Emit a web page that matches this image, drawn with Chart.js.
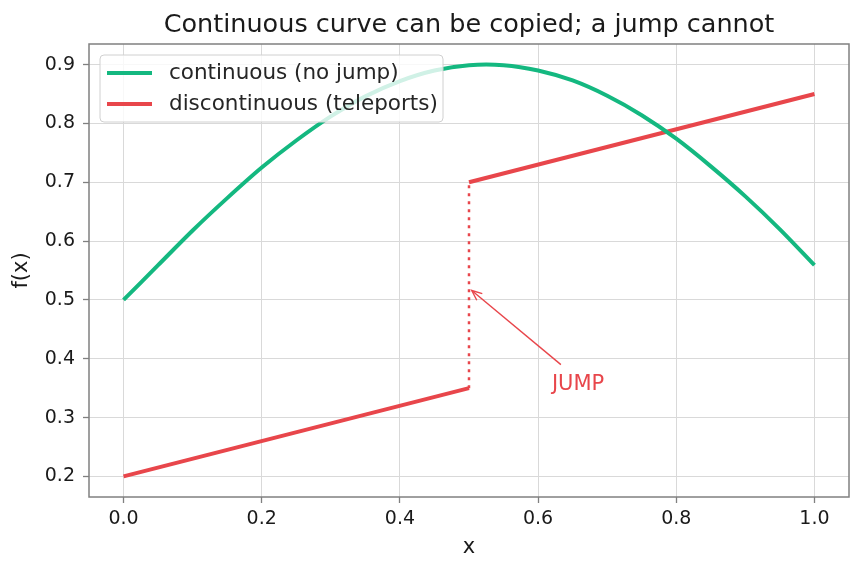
<!DOCTYPE html>
<html>
<head>
<meta charset="utf-8">
<script src="https://cdn.jsdelivr.net/npm/chart.js@4"></script>
<style>
  html,body{margin:0;padding:0;background:#fff;}
  #wrap{width:862px;height:573px;}
</style>
</head>
<body>
<div id="wrap"><canvas id="ch"></canvas></div>
<script>
'use strict';

// ── data ──
const xs = [0,0.05,0.1,0.15,0.2,0.25,0.3,0.35,0.4,0.45,0.5,0.55,0.6,0.65,0.7,0.75,0.8,0.85,0.9,0.95,1.0];
const contY = [0.5,0.559,0.618,0.673,0.725,0.771,0.812,0.846,0.872,0.89,0.899,0.899,0.89,0.873,0.847,0.814,0.774,0.727,0.676,0.62,0.559];
const leftX = [0, 0.5],  leftY = [0.2, 0.35];
const rightX = [0.5, 1.0], rightY = [0.7, 0.85];
const jumpX = [0.5, 0.5], jumpY = [0.35, 0.7];
const xTicks = [0,0.2,0.4,0.6,0.8,1.0];
const yTicks = [0.2,0.3,0.4,0.5,0.6,0.7,0.8,0.9];
const labels = ['continuous (no jump)', 'discontinuous (teleports)'];
const jumpTip = {x:0.504, y:0.516}, jumpText = {x:0.62, y:0.35}, jumpTail = {x:0.633, y:0.39};

const GREEN = '#14b880', RED = '#e8464b';
const FONT = "'DejaVu Sans', sans-serif";
const pts = (a,b) => a.map((v,i)=>({x:v,y:b[i]}));

const frame = {
  id:'frame',
  afterDatasetsDraw(c){
    const {ctx, chartArea:a, scales:{x, y}} = c;
    ctx.save();
    // spines
    ctx.strokeStyle = '#808080'; ctx.lineWidth = 1.5;
    ctx.strokeRect(a.left, a.top, a.right-a.left, a.bottom-a.top);

    // annotation arrow
    const tx = x.getPixelForValue(jumpTail.x), ty = y.getPixelForValue(jumpTail.y);
    const hx = x.getPixelForValue(jumpTip.x), hy = y.getPixelForValue(jumpTip.y);
    ctx.strokeStyle = RED; ctx.lineWidth = 1.4;
    ctx.beginPath(); ctx.moveTo(tx,ty); ctx.lineTo(hx,hy); ctx.stroke();
    const ang = Math.atan2(hy-ty, hx-tx), hl = 11;
    ctx.beginPath();
    ctx.moveTo(hx - hl*Math.cos(ang-0.4), hy - hl*Math.sin(ang-0.4));
    ctx.lineTo(hx,hy);
    ctx.lineTo(hx - hl*Math.cos(ang+0.4), hy - hl*Math.sin(ang+0.4));
    ctx.stroke();
    ctx.fillStyle = RED; ctx.font = '21px ' + FONT;
    ctx.textAlign = 'left'; ctx.textBaseline = 'alphabetic';
    ctx.fillText('JUMP', x.getPixelForValue(jumpText.x), y.getPixelForValue(jumpText.y)+2);

    // legend
    const lx = a.left + 11, ly = a.top + 11, lw = 343, lh = 67;
    ctx.fillStyle = 'rgba(255,255,255,0.8)';
    ctx.strokeStyle = '#d0d0d0'; ctx.lineWidth = 1;
    ctx.beginPath(); ctx.roundRect(lx, ly, lw, lh, 4); ctx.fill(); ctx.stroke();
    [GREEN, RED].forEach((col,i)=>{
      const yy = ly + 18 + i*31;
      ctx.strokeStyle = col; ctx.lineWidth = 4;
      ctx.beginPath(); ctx.moveTo(lx+7, yy); ctx.lineTo(lx+52, yy); ctx.stroke();
      ctx.fillStyle = '#262626'; ctx.font = '21.5px ' + FONT;
      ctx.textBaseline = 'middle';
      ctx.fillText(labels[i], lx+69, yy);
    });

    // title and axis titles
    ctx.fillStyle = '#1a1a1a'; ctx.textAlign = 'center'; ctx.textBaseline = 'middle';
    ctx.font = '25.5px ' + FONT;
    ctx.fillText('Continuous curve can be copied; a jump cannot', (a.left+a.right)/2, 25);
    ctx.font = '21px ' + FONT;
    ctx.fillText('x', (a.left+a.right)/2, 548);
    ctx.translate(22, (a.top+a.bottom)/2); ctx.rotate(-Math.PI/2);
    ctx.fillText('f(x)', 0, 0);
    ctx.restore();
  }
};

Chart.defaults.font.family = FONT;
Chart.defaults.font.size = 19;
Chart.defaults.color = '#1a1a1a';

new Chart(document.getElementById('ch'), {
  type:'scatter',
  data:{datasets:[
    {label:labels[0], data:pts(xs,contY), showLine:true, borderColor:GREEN, borderWidth:4,
     pointRadius:0, tension:0.3},
    {label:labels[1], data:pts(leftX,leftY), showLine:true, borderColor:RED, borderWidth:4, pointRadius:0},
    {label:labels[1], data:pts(rightX,rightY), showLine:true, borderColor:RED, borderWidth:4, pointRadius:0},
    {label:'jump', data:pts(jumpX,jumpY), showLine:true, borderColor:RED, borderWidth:2.5,
     borderDash:[3,5], pointRadius:0}
  ]},
  options:{
    responsive:true, maintainAspectRatio:false, animation:false,
    layout:{padding:{top:44, right:13, left:0, bottom:0}},
    plugins:{legend:{display:false}, tooltip:{enabled:false}},
    scales:{
      x:{type:'linear', min:-0.05, max:1.05,
         afterBuildTicks:s=>{ s.ticks = xTicks.map(v=>({value:v})); },
         afterFit:s=>{ s.height = 76; },
         grid:{color:'#d9d9d9', lineWidth:1, tickColor:'#808080', tickLength:6, tickWidth:1.3},
         border:{display:false},
         ticks:{padding:5, callback:v=>v.toFixed(1)}},
      y:{type:'linear', min:0.165, max:0.935,
         afterBuildTicks:s=>{ s.ticks = yTicks.map(v=>({value:v})); },
         afterFit:s=>{ s.width = 89; },
         grid:{color:'#d9d9d9', lineWidth:1, tickColor:'#808080', tickLength:6, tickWidth:1.3},
         border:{display:false},
         ticks:{padding:8, callback:v=>v.toFixed(1)}}
    }
  },
  plugins:[frame]
});
</script>
</body>
</html>
